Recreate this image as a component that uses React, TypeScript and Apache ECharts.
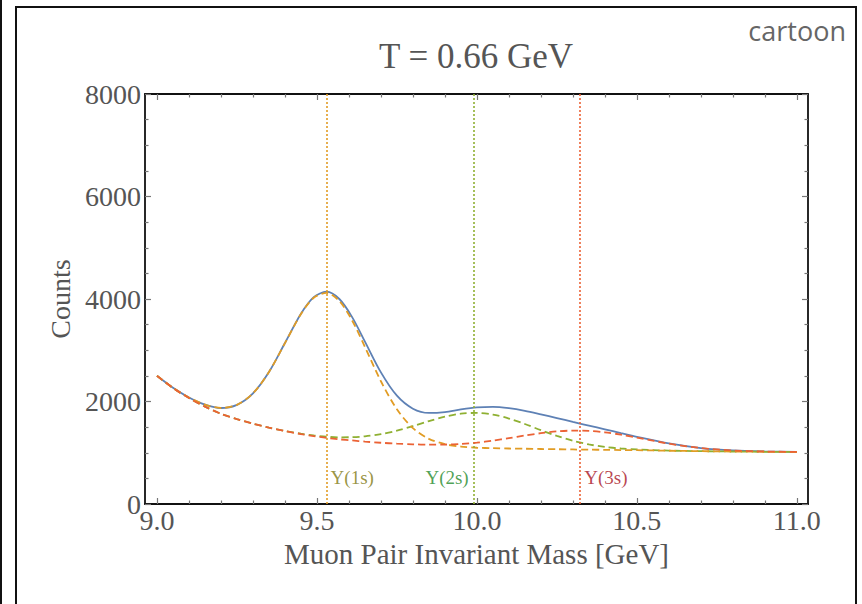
import React, { useEffect, useRef } from "react";
import * as echarts from "echarts";

const massX = [9.0, 9.05, 9.1, 9.15, 9.2, 9.25, 9.3, 9.35, 9.4, 9.45, 9.49, 9.53, 9.57, 9.61, 9.65, 9.7, 9.75, 9.8, 9.85, 9.9, 9.95, 10.0, 10.05, 10.1, 10.15, 10.2, 10.25, 10.3, 10.35, 10.4, 10.45, 10.5, 10.6, 10.7, 10.8, 10.9, 11.0];
const totalCounts = [2501, 2267, 2079, 1940, 1873, 1935, 2159, 2576, 3142, 3713, 4036, 4142, 4000, 3647, 3169, 2568, 2113, 1860, 1777, 1794, 1845, 1884, 1895, 1870, 1819, 1750, 1677, 1602, 1529, 1457, 1383, 1311, 1181, 1092, 1045, 1025, 1016];
const withY1s = [2501, 2267, 2079, 1940, 1873, 1935, 2159, 2575, 3139, 3707, 4024, 4119, 3961, 3581, 3065, 2395, 1847, 1479, 1271, 1168, 1121, 1098, 1089, 1083, 1078, 1073, 1069, 1064, 1060, 1057, 1053, 1050, 1039, 1031, 1024, 1019, 1015];
const withY2s = [2500, 2264, 2067, 1900, 1760, 1657, 1567, 1491, 1426, 1371, 1337, 1312, 1301, 1304, 1320, 1362, 1431, 1520, 1617, 1704, 1763, 1777, 1745, 1668, 1561, 1441, 1329, 1234, 1163, 1115, 1083, 1064, 1042, 1031, 1024, 1019, 1015];
const withY3s = [2500, 2264, 2067, 1900, 1760, 1657, 1567, 1490, 1423, 1365, 1325, 1289, 1262, 1240, 1218, 1195, 1177, 1165, 1157, 1160, 1173, 1197, 1237, 1285, 1336, 1382, 1417, 1432, 1426, 1399, 1353, 1297, 1178, 1092, 1045, 1025, 1016];

const peakMasses = [9.527, 9.99, 10.32];
const peakNames = ["Υ(1s)", "Υ(2s)", "Υ(3s)"];
const peakLabelY = 508;

const xMajorTicks = [9.0, 9.5, 10.0, 10.5, 11.0];
const xMinorTicks = [9.1, 9.2, 9.3, 9.4, 9.6, 9.7, 9.8, 9.9, 10.1, 10.2, 10.3, 10.4, 10.6, 10.7, 10.8, 10.9];
const yMajorTicks = [0, 2000, 4000, 6000, 8000];
const yMinorTicks = [500, 1000, 1500, 2500, 3000, 3500, 4500, 5000, 5500, 6500, 7000, 7500];

const C_BLUE = "#5E81B5";
const C_ORANGE = "#E19C24";
const C_GREEN = "#8FB032";
const C_RED = "#EB6235";
const LABEL_COLORS = ["#7F7A12", "#1F8A2A", "#A8141F"];
const LINE_COLORS = [C_ORANGE, C_GREEN, C_RED];
const SERIF = "Liberation Serif";

const X_MIN = 8.9625;
const X_MAX = 11.035;

export default function App() {
  const ref = useRef<HTMLDivElement>(null);
  useEffect(() => {
    document.body.style.margin = "0";
    const chart = echarts.init(ref.current!, null, { renderer: "svg" });
    const pair = (ys: number[]) => massX.map((x, i) => [x, ys[i]]);
    const xAxisBase = (pos: string, custom: number[], len: number, labels: boolean, idx: number) => ({
      type: "value",
      position: pos,
      min: X_MIN,
      max: X_MAX,
      axisLine: { show: idx === 0 || idx === 2, onZero: false, lineStyle: { color: "#111", width: 1.8 } },
      axisTick: { show: true, inside: true, length: len, customValues: custom, lineStyle: { color: "#777", width: 1.2 } },
      axisLabel: labels
        ? { show: true, customValues: xMajorTicks, formatter: (v: number) => v.toFixed(1), fontFamily: SERIF, fontSize: 28, color: "#555", margin: 2 }
        : { show: false },
      splitLine: { show: false },
      name: labels ? "Muon Pair Invariant Mass [GeV]" : "",
      nameLocation: "middle",
      nameGap: 35,
      nameTextStyle: { fontFamily: SERIF, fontSize: 29, color: "#555" },
    });
    const yAxisBase = (pos: string, custom: number[], len: number, labels: boolean, idx: number) => ({
      type: "value",
      position: pos,
      min: 0,
      max: 8000,
      interval: 2000,
      axisLine: { show: idx === 0 || idx === 2, onZero: false, lineStyle: { color: "#111", width: 1.8 } },
      axisTick: { show: true, inside: true, length: len, customValues: custom, lineStyle: { color: "#777", width: 1.2 } },
      axisLabel: labels
        ? { show: true, formatter: (v: number) => String(v), fontFamily: SERIF, fontSize: 28, color: "#555", margin: 4 }
        : { show: false },
      splitLine: { show: false },
      name: labels ? "Counts" : "",
      nameLocation: "middle",
      nameGap: 71,
      nameTextStyle: { fontFamily: SERIF, fontSize: 28, color: "#555" },
    });
    const dashed = (name: string, data: number[], color: string, z: number) => ({
      name,
      type: "line",
      data: pair(data),
      smooth: 0.3,
      showSymbol: false,
      symbol: "none",
      z,
      lineStyle: { color, width: 1.8, type: [7, 4] },
    });
    chart.setOption({
      animation: false,
      backgroundColor: "#fff",
      title: {
        text: "T = 0.66 GeV",
        left: 471,
        top: 34,
        textAlign: "center",
        textStyle: { fontFamily: SERIF, fontSize: 35, fontWeight: "normal", color: "#555" },
      },
      graphic: [
        { type: "rect", shape: { x: 16, y: 7, width: 840, height: 640 }, style: { fill: "none", stroke: "#111", lineWidth: 2 } },
        { type: "line", shape: { x1: 1, y1: 0, x2: 1, y2: 604 }, style: { stroke: "#111", lineWidth: 2 } },
        { type: "text", right: 16, top: 17, style: { text: "cartoon", font: "27px 'Open Sans'", fill: "#666" } },
      ],
      grid: { left: 145, right: 54, top: 94, bottom: 100, containLabel: false },
      xAxis: [
        xAxisBase("bottom", xMajorTicks, 6, true, 0),
        xAxisBase("bottom", xMinorTicks, 3.5, false, 1),
        xAxisBase("top", xMajorTicks, 6, false, 2),
        xAxisBase("top", xMinorTicks, 3.5, false, 3),
      ],
      yAxis: [
        yAxisBase("left", yMajorTicks, 6, true, 0),
        yAxisBase("left", yMinorTicks, 3.5, false, 1),
        yAxisBase("right", yMajorTicks, 6, false, 2),
        yAxisBase("right", yMinorTicks, 3.5, false, 3),
      ],
      series: [
        {
          name: "total",
          type: "line",
          data: pair(totalCounts),
          smooth: 0.3,
          showSymbol: false,
          symbol: "none",
          z: 2,
          lineStyle: { color: C_BLUE, width: 1.8 },
          markLine: {
            symbol: "none",
            silent: true,
            label: { show: false },
            data: peakMasses.map((m, i) => ({
              xAxis: m,
              lineStyle: { color: LINE_COLORS[i], width: 1.6, type: [2, 2] },
            })),
          },
        },
        dashed("Y2s", withY2s, C_GREEN, 3),
        dashed("Y1s", withY1s, C_ORANGE, 4),
        dashed("Y3s", withY3s, C_RED, 5),
        ...peakMasses.map((m, i) => ({
          name: peakNames[i],
          type: "scatter",
          data: [[m, peakLabelY]],
          symbolSize: 0,
          silent: true,
          z: 6,
          label: {
            show: true,
            position: i === 1 ? "left" : "right",
            distance: 5,
            formatter: peakNames[i],
            fontFamily: SERIF,
            fontSize: 19,
            color: LABEL_COLORS[i],
          },
        })),
      ],
    });
    return () => chart.dispose();
  }, []);
  return <div ref={ref} style={{ width: 862, height: 604 }} />;
}
